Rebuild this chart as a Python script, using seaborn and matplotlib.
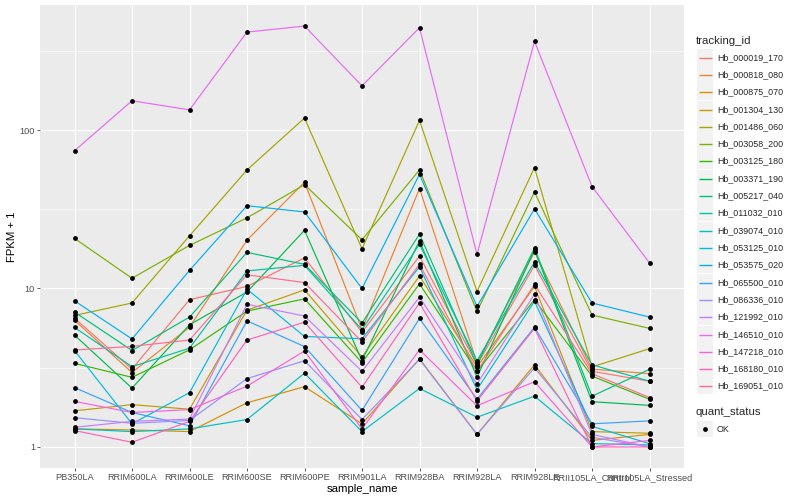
import numpy as np
import pandas as pd
import matplotlib
matplotlib.use("Agg")
import matplotlib.pyplot as plt
from matplotlib.patches import Rectangle
import seaborn as sns

# samples on the x axis
samples = ["PB350LA", "RRIM600LA", "RRIM600LE", "RRIM600SE", "RRIM600PE",
           "RRIM901LA", "RRIM928BA", "RRIM928LA", "RRIM928LE",
           "RRII105LA_Control", "RRII105LA_Stressed"]

tracking_ids = ["Hb_000019_170", "Hb_000818_080", "Hb_000875_070", "Hb_001304_130",
                "Hb_001486_060", "Hb_003058_200", "Hb_003125_180", "Hb_003371_190",
                "Hb_005217_040", "Hb_011032_010", "Hb_039074_010", "Hb_053125_010",
                "Hb_053575_020", "Hb_065500_010", "Hb_086336_010", "Hb_121992_010",
                "Hb_146510_010", "Hb_147218_010", "Hb_168180_010", "Hb_169051_010"]

# FPKM + 1, one list per gene (same order as samples)
hb_000019_170 = [6.5, 3.1, 8.5, 10.3, 15.6, 5.3, 16.0, 3.3, 14.0, 3.0, 2.6]
hb_000818_080 = [6.3, 2.95, 5.7, 20.2, 46.8, 5.5, 42.7, 3.4, 17.0, 3.1, 2.9]
hb_000875_070 = [1.3, 1.28, 1.25, 1.9, 2.4, 1.4, 3.6, 1.2, 3.3, 1.1, 1.2]
hb_001304_130 = [1.69, 1.85, 1.73, 7.3, 9.8, 3.7, 12.0, 3.2, 10.3, 1.25, 1.22]
hb_001486_060 = [6.76, 8.1, 21.5, 56.0, 119.0, 17.8, 115.0, 9.57, 58.0, 3.2, 4.17]
hb_003058_200 = [20.7, 11.6, 18.7, 27.9, 45.2, 20.3, 56.0, 7.16, 40.6, 6.8, 5.6]
hb_003125_180 = [3.37, 2.75, 4.1, 7.2, 8.6, 3.4, 10.7, 3.0, 8.5, 2.8, 2.0]
hb_003371_190 = [5.08, 2.35, 5.9, 9.5, 23.3, 3.5, 20.0, 2.75, 17.6, 1.93, 1.83]
hb_005217_040 = [7.1, 4.06, 6.6, 16.9, 14.2, 6.05, 22.0, 3.3, 18.0, 2.09, 3.09]
hb_011032_010 = [5.68, 3.21, 4.2, 12.9, 14.0, 5.5, 19.0, 3.5, 14.7, 3.3, 2.6]
hb_039074_010 = [1.3, 1.25, 1.3, 1.49, 2.92, 1.25, 2.34, 1.54, 2.09, 1.05, 1.03]
hb_053125_010 = [4.06, 1.4, 2.2, 9.9, 4.98, 4.82, 13.7, 2.3, 8.3, 1.35, 1.05]
hb_053575_020 = [8.36, 4.8, 13.0, 33.3, 30.4, 10.0, 52.5, 7.7, 31.8, 8.1, 6.6]
hb_065500_010 = [2.37, 1.65, 1.36, 6.25, 4.3, 1.7, 6.47, 2.0, 5.7, 1.4, 1.46]
hb_086336_010 = [1.53, 1.41, 1.47, 2.7, 3.5, 1.49, 3.57, 1.2, 3.16, 1.15, 1.0]
hb_121992_010 = [1.33, 1.45, 1.5, 7.95, 6.7, 3.0, 8.8, 2.5, 9.2, 1.2, 1.0]
hb_146510_010 = [74.0, 153.0, 134.0, 415.0, 453.0, 190.0, 442.0, 16.4, 363.0, 44.0, 14.5]
hb_147218_010 = [1.94, 1.65, 1.72, 2.42, 4.03, 1.3, 4.1, 1.82, 2.58, 1.0, 1.1]
hb_168180_010 = [1.27, 1.07, 1.45, 4.73, 6.13, 2.38, 8.1, 1.95, 5.6, 1.0, 1.0]
hb_169051_010 = [4.09, 4.31, 4.73, 12.2, 10.9, 4.6, 14.2, 3.0, 10.6, 2.9, 2.05]

# ggplot default hue palette for 20 levels
colors = ["#F8766D", "#EA8331", "#D89000", "#C09B00", "#A3A500", "#7CAE00",
          "#39B600", "#00BB4E", "#00BF7D", "#00C1A3", "#00BFC4", "#00BAE0",
          "#00B0F6", "#35A2FF", "#9590FF", "#C77CFF", "#E76BF3", "#FA62DB",
          "#FF62BC", "#FF6C91"]

series = [hb_000019_170, hb_000818_080, hb_000875_070, hb_001304_130, hb_001486_060,
          hb_003058_200, hb_003125_180, hb_003371_190, hb_005217_040, hb_011032_010,
          hb_039074_010, hb_053125_010, hb_053575_020, hb_065500_010, hb_086336_010,
          hb_121992_010, hb_146510_010, hb_147218_010, hb_168180_010, hb_169051_010]

rows = []
for tid, vals in zip(tracking_ids, series):
    for s, v in zip(samples, vals):
        rows.append({"tracking_id": tid, "sample_name": s, "fpkm": v,
                     "pos": samples.index(s), "quant_status": "OK"})
df = pd.DataFrame(rows)

sns.set_theme(style="darkgrid")
plt.rcParams["font.family"] = ["Liberation Sans", "DejaVu Sans"]

fig = plt.figure(figsize=(8, 5), dpi=100)
ax = fig.add_axes([0.05, 0.064, 0.805, 0.926])
ax.set_facecolor("#EBEBEB")

sns.lineplot(data=df, x="pos", y="fpkm", hue="tracking_id", palette=colors,
             hue_order=tracking_ids, sort=False, legend=False, linewidth=0.85,
             estimator=None, ax=ax)
sns.scatterplot(data=df, x="pos", y="fpkm", color="black", s=12, linewidth=0,
                legend=False, ax=ax, zorder=5)

ax.set_yscale("log")
lo = np.log10(df["fpkm"].min())
hi = np.log10(df["fpkm"].max())
pad = 0.05 * (hi - lo)
ax.set_ylim(10 ** (lo - pad), 10 ** (hi + pad))
ax.set_xlim(-0.6, len(samples) - 1 + 0.6)

ax.set_xticks(range(len(samples)))
ax.set_xticklabels(samples)
ax.set_yticks([1, 10, 100])
ax.set_yticklabels(["1", "10", "100"])
ax.set_yticks([10 ** 0.5, 10 ** 1.5, 10 ** 2.5], minor=True)
ax.yaxis.set_minor_formatter(matplotlib.ticker.NullFormatter())
ax.xaxis.set_minor_locator(matplotlib.ticker.NullLocator())

ax.grid(which="major", color="white", linewidth=0.8)
ax.grid(which="minor", axis="y", color="white", linewidth=0.4)
ax.set_axisbelow(True)
for sp in ax.spines.values():
    sp.set_visible(False)

ax.tick_params(axis="both", which="major", length=2.0, width=0.55, color="#333333",
               labelsize=6.6, labelcolor="#4D4D4D", pad=1.6, bottom=True, left=True)
ax.tick_params(axis="y", which="minor", length=0)
ax.set_xlabel("sample_name", fontsize=8.2, color="black", labelpad=1.5)
ax.set_ylabel("FPKM + 1", fontsize=8.2, color="black", labelpad=2)

# legends drawn in figure pixel space, ggplot style
ov = fig.add_axes([0, 0, 1, 1], facecolor="none")
ov.set_xlim(0, 800)
ov.set_ylim(500, 0)
ov.axis("off")

ov.text(696, 40.5, "tracking_id", fontsize=8.2, va="center", ha="left")
step = 17.3
for i, (tid, c) in enumerate(zip(tracking_ids, colors)):
    cy = round(56.7 + i * step) + 0.5
    ov.add_patch(Rectangle((697, cy - 8.1), 16, 16.2, facecolor="#F2F2F2", edgecolor="none"))
    ov.plot([698.5, 711.5], [cy, cy], color=c, linewidth=1.0, solid_capstyle="butt")
    ov.text(717, cy, tid, fontsize=6.4, va="center", ha="left")

ov.text(696, 412.3, "quant_status", fontsize=8.2, va="center", ha="left")
ov.add_patch(Rectangle((697, 429 - 8.1), 16, 16.2, facecolor="#F2F2F2", edgecolor="none"))
ov.scatter([705], [429], s=12, color="black", linewidths=0)
ov.text(717, 429, "OK", fontsize=6.4, va="center", ha="left")

fig.savefig("out.png", dpi=100, facecolor="white")
